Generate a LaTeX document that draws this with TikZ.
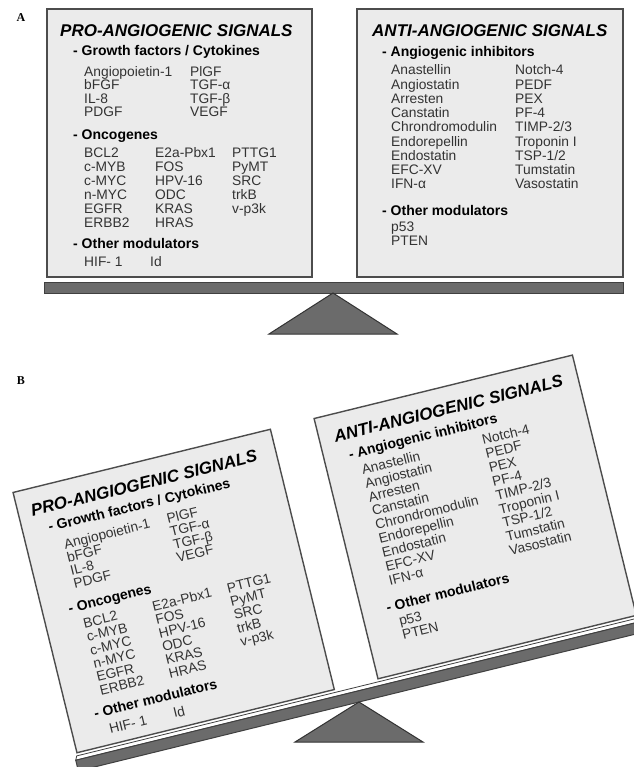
\documentclass[tikz,border=0pt]{standalone}
\usepackage{fontspec}
\setmainfont{Liberation Sans}
\newfontfamily\labelfont{Liberation Serif}
\tikzset{
  sigbox/.style={draw=black!70, line width=1.4pt, fill=black!8, inner sep=0pt, outer sep=0pt, anchor=north west},
  ttl/.style={font=\fontsize{17}{20}\selectfont\bfseries\itshape, anchor=base west, inner sep=0pt},
  sub/.style={font=\fontsize{14}{16}\selectfont\bfseries, anchor=base west, inner sep=0pt},
  itm/.style={font=\fontsize{13.8}{15}\selectfont, anchor=base west, inner sep=0pt, text=black!80},
  beam/.style={draw=black!75, line width=1pt, fill=black!58},
  topface/.style={draw=black!75, line width=0.8pt, fill=white},
  fulcrum/.style={draw=black!80, line width=1pt, fill=black!58},
  plabel/.style={font=\labelfont\bfseries\fontsize{12}{13}\selectfont, anchor=base, inner sep=0pt},
}
\newcommand{\sigpanel}[1]{%
  \node[sigbox, minimum width=265pt, minimum height=268pt] (#1-probox) at (47,9) {};
  \node[sigbox, minimum width=266pt, minimum height=268pt] (#1-antibox) at (357,9) {};
  % pro-angiogenic
  \node[ttl] (#1-protitle) at (60,37) {PRO-ANGIOGENIC SIGNALS};
  \node[sub] (#1-growth) at (73,56) {- Growth factors / Cytokines};
  \foreach \t [count=\i from 0] in {Angiopoietin-1,bFGF,IL-8,PDGF}
    \node[itm] (#1-ga\i) at (84,{76.5+13.4*\i}) {\t};
  \foreach \t [count=\i from 0] in {PlGF,TGF-α,TGF-β,VEGF}
    \node[itm] (#1-gb\i) at (190,{76.5+13.4*\i}) {\t};
  \node[sub] (#1-onco) at (73,140) {- Oncogenes};
  \foreach \t [count=\i from 0] in {BCL2,c-MYB,c-MYC,n-MYC,EGFR,ERBB2}
    \node[itm] (#1-oa\i) at (84,{158+13.8*\i}) {\t};
  \foreach \t [count=\i from 0] in {E2a-Pbx1,FOS,HPV-16,ODC,KRAS,HRAS}
    \node[itm] (#1-ob\i) at (155,{158+13.8*\i}) {\t};
  \foreach \t [count=\i from 0] in {PTTG1,PyMT,SRC,trkB,v-p3k}
    \node[itm] (#1-oc\i) at (232,{158+13.8*\i}) {\t};
  \node[sub] (#1-promod) at (73,248) {- Other modulators};
  \node[itm] (#1-hif) at (84,266.5) {HIF- 1};
  \node[itm] (#1-id) at (150,266.5) {Id};
  % anti-angiogenic
  \node[ttl] (#1-antititle) at (372,37) {ANTI-ANGIOGENIC SIGNALS};
  \node[sub] (#1-inhib) at (382,57) {- Angiogenic inhibitors};
  \foreach \t [count=\i from 0] in {Anastellin,Angiostatin,Arresten,Canstatin,Chrondromodulin,Endorepellin,Endostatin,EFC-XV,IFN-α}
    \node[itm] (#1-ia\i) at (391,{75+14.25*\i}) {\t};
  \foreach \t [count=\i from 0] in {Notch-4,PEDF,PEX,PF-4,TIMP-2/3,Troponin I,TSP-1/2,Tumstatin,Vasostatin}
    \node[itm] (#1-ib\i) at (515,{75+14.25*\i}) {\t};
  \node[sub] (#1-antimod) at (382,215) {- Other modulators};
  \node[itm] (#1-p53) at (391,231) {p53};
  \node[itm] (#1-pten) at (391,245) {PTEN};
}
\begin{document}
\begin{tikzpicture}[x=1pt, y=-1pt]
  \useasboundingbox (0,0) rectangle (633,767);
  % Panel A
  \node[plabel] (labA) at (21,22) {A};
  \sigpanel{a}
  \draw[beam] (44,282) rectangle (623,293);
  \draw[fulcrum] (333,293) -- (397,334) -- (269,334) -- cycle;
  % Panel B
  \node[plabel] (labB) at (21,384) {B};
  \begin{scope}[shift={(359,702)}, rotate=13.8, shift={(-333,-295)}, transform shape]
    \sigpanel{b}
    \draw[topface] (46,280) -- (625,280) -- (623,284) -- (44,284) -- cycle;
    \draw[beam] (44,284) rectangle (623,295);
  \end{scope}
  \draw[fulcrum] (359,702) -- (423,742) -- (295,742) -- cycle;
\end{tikzpicture}
\end{document}
